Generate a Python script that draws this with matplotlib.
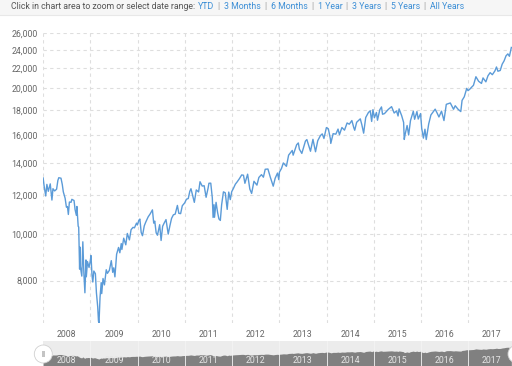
import numpy as np
import pandas as pd
import matplotlib
matplotlib.use("Agg")
import matplotlib.pyplot as plt
import matplotlib.dates as mdates
from matplotlib.patches import Rectangle, Circle
from matplotlib.ticker import FixedLocator, FuncFormatter, NullLocator

plt.rcParams['font.family'] = ['Roboto', 'DejaVu Sans']

# closing values (roughly twice a month plus the swings)
dates_2008 = ["2008-01-02", "2008-01-09", "2008-01-22", "2008-01-31", "2008-02-11", "2008-02-26",
              "2008-03-10", "2008-03-18", "2008-03-31", "2008-04-15", "2008-04-25", "2008-05-02",
              "2008-05-19", "2008-05-29", "2008-06-06", "2008-06-20", "2008-06-30", "2008-07-08",
              "2008-07-15", "2008-07-23", "2008-08-05", "2008-08-11", "2008-08-28", "2008-09-05",
              "2008-09-15", "2008-09-19", "2008-09-29", "2008-10-03", "2008-10-10", "2008-10-13",
              "2008-10-15", "2008-10-27", "2008-11-04", "2008-11-12", "2008-11-20", "2008-11-28",
              "2008-12-01", "2008-12-10", "2008-12-22", "2008-12-31"]
values_2008 = [13044, 12590, 11971, 12650, 12240, 12680, 11740, 12392, 12262, 12362, 12891, 13058,
               13028, 12646, 12209, 11843, 11350, 11384, 10963, 11632, 11615, 11782, 11715, 11220,
               10917, 11388, 10365, 10325, 8451, 9387, 8578, 8175, 9625, 8283, 7552, 8829,
               8149, 8761, 8519, 8776]

dates_2009 = ["2009-01-06", "2009-01-14", "2009-01-20", "2009-01-28", "2009-02-09", "2009-02-17",
              "2009-02-27", "2009-03-05", "2009-03-09", "2009-03-17", "2009-03-26", "2009-03-30",
              "2009-04-09", "2009-04-20", "2009-05-04", "2009-05-13", "2009-05-28", "2009-06-12",
              "2009-06-23", "2009-07-01", "2009-07-10", "2009-07-23", "2009-08-07", "2009-08-17",
              "2009-08-28", "2009-09-02", "2009-09-16", "2009-10-02", "2009-10-14", "2009-10-30",
              "2009-11-12", "2009-11-27", "2009-12-08", "2009-12-24", "2009-12-31"]
values_2009 = [9015, 8200, 7949, 8375, 8270, 7552, 7062, 6594, 6547, 7395, 7924, 7522,
               8083, 7841, 8426, 8284, 8403, 8799, 8323, 8504, 8146, 9069, 9370, 9136,
               9544, 9280, 9792, 9488, 10015, 9713, 10197, 10310, 10286, 10520, 10428]

dates_2010 = ["2010-01-11", "2010-01-19", "2010-01-29", "2010-02-08", "2010-02-22", "2010-03-05",
              "2010-03-24", "2010-04-09", "2010-04-26", "2010-05-06", "2010-05-14", "2010-05-25",
              "2010-06-04", "2010-06-21", "2010-07-02", "2010-07-14", "2010-07-26", "2010-08-09",
              "2010-08-26", "2010-09-08", "2010-09-21", "2010-10-05", "2010-10-19", "2010-11-05",
              "2010-11-16", "2010-11-30", "2010-12-13", "2010-12-31"]
values_2010 = [10663, 10725, 10067, 9908, 10384, 10566, 10837, 10997, 11205, 10520, 10620, 10043,
               9931, 10442, 9686, 10366, 10525, 10698, 9985, 10387, 10761, 10944, 10979, 11444,
               11023, 11006, 11428, 11578]

dates_2011 = ["2011-01-14", "2011-01-28", "2011-02-09", "2011-02-18", "2011-03-01", "2011-03-16",
              "2011-03-31", "2011-04-18", "2011-04-29", "2011-05-16", "2011-05-31", "2011-06-15",
              "2011-06-30", "2011-07-07", "2011-07-21", "2011-08-02", "2011-08-08", "2011-08-15",
              "2011-08-19", "2011-08-31", "2011-09-12", "2011-09-22", "2011-10-03", "2011-10-13",
              "2011-10-27", "2011-11-10", "2011-11-25", "2011-12-07", "2011-12-19", "2011-12-30"]
values_2011 = [11787, 11824, 12239, 12391, 12058, 11613, 12320, 12202, 12810, 12548, 12570, 11897,
               12414, 12719, 12724, 11867, 10809, 11482, 10817, 11614, 11061, 10733, 10655, 11478,
               12208, 12153, 11231, 12196, 11766, 12217]

dates_2012 = ["2012-01-13", "2012-01-27", "2012-02-10", "2012-02-28", "2012-03-16", "2012-03-30",
              "2012-04-10", "2012-05-01", "2012-05-18", "2012-06-01", "2012-06-19", "2012-07-12",
              "2012-07-27", "2012-08-16", "2012-08-31", "2012-09-14", "2012-10-05", "2012-10-23",
              "2012-11-15", "2012-11-30", "2012-12-18", "2012-12-28"]
values_2012 = [12422, 12660, 12801, 13005, 13232, 13212, 12715, 13279, 12369, 12118, 12837, 12604,
               13075, 13250, 13090, 13593, 13610, 13102, 12542, 13025, 13350, 12938]

dates_2013 = ["2013-01-02", "2013-01-18", "2013-02-01", "2013-02-25", "2013-03-14", "2013-04-11",
              "2013-04-18", "2013-05-15", "2013-05-28", "2013-06-05", "2013-06-24", "2013-07-22",
              "2013-08-02", "2013-08-30", "2013-09-18", "2013-10-08", "2013-10-25", "2013-11-15",
              "2013-11-29", "2013-12-12", "2013-12-31"]
values_2013 = [13412, 13649, 14009, 13784, 14539, 14865, 14537, 15275, 15409, 14960, 14659, 15545,
               15658, 14810, 15676, 14776, 15570, 15961, 16086, 15739, 16577]

dates_2014 = ["2014-01-15", "2014-01-31", "2014-02-03", "2014-02-21", "2014-03-14", "2014-03-31",
              "2014-04-11", "2014-04-30", "2014-05-20", "2014-06-09", "2014-06-26", "2014-07-16",
              "2014-07-31", "2014-08-07", "2014-08-22", "2014-09-19", "2014-10-01", "2014-10-15",
              "2014-10-31", "2014-11-21", "2014-12-05", "2014-12-16", "2014-12-26"]
values_2014 = [16482, 15699, 15372, 16103, 16065, 16458, 16027, 16581, 16374, 16944, 16846, 17138,
               16563, 16368, 17001, 17280, 16804, 16142, 17391, 17810, 17958, 17068, 18053]

dates_2015 = ["2015-01-06", "2015-01-22", "2015-01-30", "2015-02-17", "2015-03-02", "2015-03-10",
              "2015-03-25", "2015-04-24", "2015-05-19", "2015-06-08", "2015-06-26", "2015-07-08",
              "2015-07-16", "2015-08-05", "2015-08-20", "2015-08-25", "2015-09-01", "2015-09-16",
              "2015-09-28", "2015-10-12", "2015-11-03", "2015-11-13", "2015-12-01", "2015-12-11",
              "2015-12-29"]
values_2015 = [17371, 17813, 17165, 18047, 18288, 17662, 17718, 18080, 18312, 17766, 17947, 17515,
               18120, 17540, 16990, 15666, 16058, 16740, 16001, 17131, 17918, 17245, 17888, 17265,
               17720]

dates_2016 = ["2016-01-07", "2016-01-20", "2016-02-01", "2016-02-11", "2016-03-01", "2016-03-18",
              "2016-04-20", "2016-05-06", "2016-05-19", "2016-06-08", "2016-06-27", "2016-07-15",
              "2016-08-15", "2016-09-09", "2016-09-22", "2016-10-13", "2016-11-04", "2016-11-14",
              "2016-12-01", "2016-12-20", "2016-12-30"]
values_2016 = [16514, 15766, 16449, 15660, 16866, 17602, 18096, 17740, 17435, 17920, 17140, 18516,
               18636, 18085, 18392, 18098, 17888, 18868, 19191, 19974, 19763]

dates_2017 = ["2017-01-12", "2017-01-25", "2017-02-10", "2017-03-01", "2017-03-22", "2017-04-13",
              "2017-04-25", "2017-05-17", "2017-06-02", "2017-06-19", "2017-07-06", "2017-07-26",
              "2017-08-07", "2017-08-18", "2017-09-05", "2017-09-20", "2017-10-05", "2017-10-20",
              "2017-11-03", "2017-11-15", "2017-11-30"]
values_2017 = [19892, 20068, 20269, 21115, 20661, 20453, 20996, 20606, 21206, 21528, 21320, 21711,
               22118, 21675, 21753, 22412, 22775, 23329, 23539, 23272, 24272]

years = list(range(2008, 2018))
y_ticks = [8000, 10000, 12000, 14000, 16000, 18000, 20000, 22000, 24000, 26000]
range_links = ["YTD", "3 Months", "6 Months", "1 Year", "3 Years", "5 Years", "All Years"]

dates = pd.to_datetime(dates_2008 + dates_2009 + dates_2010 + dates_2011 + dates_2012
                       + dates_2013 + dates_2014 + dates_2015 + dates_2016 + dates_2017)
values = np.array(values_2008 + values_2009 + values_2010 + values_2011 + values_2012
                  + values_2013 + values_2014 + values_2015 + values_2016 + values_2017)

W, H = 512, 366
line_color = '#5b9bd8'
grid_color = '#dedede'
text_color = '#666666'


def fx(px):
    return px / W


def fy(py):
    return 1 - py / H


fig = plt.figure(figsize=(W / 100, H / 100), dpi=100)

# header bar with the date range links
fig.patches.append(Rectangle((0, fy(15)), 1, 15 / H, transform=fig.transFigure,
                             facecolor='#f6f6f6', edgecolor='none'))
fig.lines.append(plt.Line2D([0, 1], [fy(15), fy(15)], transform=fig.transFigure,
                            color='#e8e8e8', lw=0.8))
fig.text(fx(11), fy(6.5), "Click in chart area to zoom or select date range:",
         fontsize=6.3, color='#555555', va='center')
link_x = [198, 224, 271, 318, 352, 391, 430]
for i, (lbl, x) in enumerate(zip(range_links, link_x)):
    fig.text(fx(x), fy(6.5), lbl, fontsize=6.3, color='#3d8fd6', va='center')
    if i < len(range_links) - 1:
        fig.text(fx(link_x[i + 1] - 5.5), fy(6.5), "|", fontsize=6.3, color='#999999',
                 va='center', ha='center')

x_start = mdates.date2num(pd.Timestamp("2008-01-01"))
x_end = mdates.date2num(pd.Timestamp("2017-12-05"))
year_starts = [mdates.date2num(pd.Timestamp(f"{y}-01-01")) for y in years]
year_mids = [mdates.date2num(pd.Timestamp(f"{y}-07-02")) for y in years]

# main chart
ax = fig.add_axes([fx(43), fy(323), 1 - fx(43), (323 - 33) / H])
ax.plot(dates, values, color=line_color, lw=1.0)
ax.set_yscale('log')
ax.set_ylim(6540, 26000)
ax.set_xlim(x_start, x_end)
ax.yaxis.set_major_locator(FixedLocator(y_ticks))
ax.yaxis.set_minor_locator(NullLocator())
ax.yaxis.set_major_formatter(FuncFormatter(lambda v, p: f"{int(v):,}"))
ax.xaxis.set_major_locator(FixedLocator(year_mids))
ax.xaxis.set_major_formatter(FuncFormatter(lambda v, p: str(mdates.num2date(v).year)))
ax.xaxis.set_minor_locator(FixedLocator(year_starts))
ax.tick_params(axis='both', which='both', length=0, labelsize=6.3, labelcolor=text_color)
ax.tick_params(axis='y', pad=4)
ax.tick_params(axis='x', pad=5)
ax.grid(axis='y', which='major', color=grid_color, lw=0.8, ls=(0, (3, 3)))
ax.grid(axis='x', which='minor', color=grid_color, lw=0.8, ls=(0, (3, 3)))
for s in ax.spines.values():
    s.set_visible(False)

# navigator strip at the bottom
nav = fig.add_axes([fx(43), 0, 1 - fx(43), (366 - 341) / H])
nav.set_facecolor('#ececec')
nav.fill_between(dates, values, -5000, color='#808080', lw=0)
nav.set_ylim(-3540, 32480)
nav.set_xlim(x_start, x_end)
for xs in year_starts[1:]:
    nav.axvline(xs, color='#f4f4f4', lw=0.6)
for xm, y in zip(year_mids, years):
    nav.text(xm, 4800, str(y), fontsize=6.3, color='#e6e6e6', ha='center', va='center')
nav.set_xticks([])
nav.set_yticks([])
for s in nav.spines.values():
    s.set_visible(False)

# navigator handles, drawn in inches so they stay round
for hx in [43.3, 517]:
    fig.patches.append(Circle((hx / 100, (H - 354) / 100), 0.09, transform=fig.dpi_scale_trans,
                              facecolor='white', edgecolor='#d0d0d0', lw=0.6))
fig.patches.append(Rectangle((41.6 / 100, (H - 357.3) / 100), 0.037, 0.067,
                             transform=fig.dpi_scale_trans, facecolor='#c4c4c4', edgecolor='none'))

fig.savefig("out.png", dpi=100)
